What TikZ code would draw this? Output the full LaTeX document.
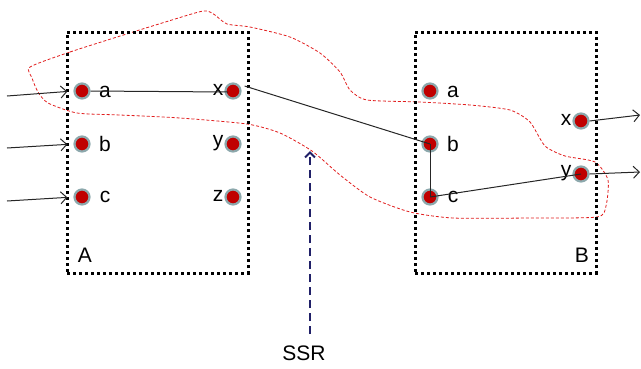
\documentclass[tikz,border=0pt]{standalone}
\usepackage{fontspec}
\setmainfont{Liberation Sans}
\usetikzlibrary{arrows.meta}
\definecolor{dotred}{RGB}{192,0,0}
\definecolor{ringgray}{RGB}{140,168,172}
\definecolor{navyblue}{RGB}{32,32,104}
\definecolor{curvered}{RGB}{225,30,30}
\begin{document}
\begin{tikzpicture}[x=1pt,y=-1pt,
 dot/.style={circle,fill=dotred,draw=ringgray,line width=2.2pt,minimum size=15pt,inner sep=0pt},
 lbl/.style={font=\fontsize{21}{25}\selectfont,inner sep=0pt},
 box/.style={draw=black,line width=3pt,dash pattern=on 3pt off 3pt,inner sep=0pt,minimum width=181pt,minimum height=241pt},
 conn/.style={draw=black!85,line width=1pt},
 io/.style={conn,-{Straight Barb[length=6pt,width=12pt]}},
 ssrarrow/.style={draw=navyblue,line width=2pt,dash pattern=on 8pt off 5pt,-{Straight Barb[length=5pt,width=10pt]}},
 region/.style={draw=curvered,line width=0.8pt,dash pattern=on 3pt off 2pt}]
\useasboundingbox (0,0) rectangle (641,368);

% region of SSR
\draw[region] plot[smooth cycle, tension=0.4] coordinates {
 (30,67) (70,52) (133,32) (195,13) (207,11) (215,15) (227,24) (250,27) (290,37) (320,53) (340,72)
 (350,90) (367,100) (420,102) (470,105) (510,110) (530,122) (545,146)
 (565,156) (595,162) (608,180) (606,206) (597,217) (530,218) (453,218)
 (410,212) (370,197) (340,175) (312,151) (280,133) (247,124) (180,118)
 (120,115) (77,113) (48,103) (38,92) (32,78)};

% boxes
\node[box] (A) at (157.5,152.5) {};
\node[box] (B) at (505.5,152.5) {};
\node[lbl] (Alab) at (85,255) {A};
\node[lbl] (Blab) at (582,255) {B};

% dots of A
\node[dot] (Aa) at (82,91) {};
\node[dot] (Ab) at (82,144) {};
\node[dot] (Ac) at (82,197) {};
\node[dot] (Ax) at (233,91) {};
\node[dot] (Ay) at (233,144) {};
\node[dot] (Az) at (233,197) {};
\node[lbl] (Aal) at (105,92) {a};
\node[lbl] (Abl) at (105,144) {b};
\node[lbl] (Acl) at (105,197) {c};
\node[lbl] (Axl) at (218,90) {x};
\node[lbl] (Ayl) at (218,143) {y};
\node[lbl] (Azl) at (218,196) {z};

% dots of B
\node[dot] (Ba) at (430,91) {};
\node[dot] (Bb) at (430,144) {};
\node[dot] (Bc) at (430,197) {};
\node[dot] (Bx) at (581,121) {};
\node[dot] (By) at (581,174) {};
\node[lbl] (Bal) at (453,92) {a};
\node[lbl] (Bbl) at (453,144) {b};
\node[lbl] (Bcl) at (453,197) {c};
\node[lbl] (Bxl) at (566,120) {x};
\node[lbl] (Byl) at (566,173) {y};

% input / output ends
\coordinate (ina) at (7,96);
\coordinate (inb) at (7,148);
\coordinate (inc) at (7,201);
\coordinate (outx) at (640,115);
\coordinate (outy) at (640,172);

\draw[io,shorten >=6pt] (ina) -- (Aa.west);
\draw[io,shorten >=6pt] (inb) -- (Ab.west);
\draw[io,shorten >=6pt] (inc) -- (Ac.west);
\draw[io] (Bx.east) -- (outx);
\draw[io] (By.east) -- (outy);

% internal connections
\draw[conn] (Aa.east) -- ([xshift=-5pt,yshift=-1pt]Ax.center);
\draw[conn] ([xshift=3pt,yshift=5pt]Ax.east) -- (Bb.center);
\draw[conn] (Bb.center) -- (Bc.center);
\draw[conn] (Bc.center) -- (By.center);

% SSR
\node[lbl] (ssr) at (304,353) {SSR};
\coordinate (ssrtail) at (310,334);
\coordinate (ssrtip) at (310,151);
\draw[ssrarrow] (ssrtail) -- (ssrtip);
\end{tikzpicture}
\end{document}
